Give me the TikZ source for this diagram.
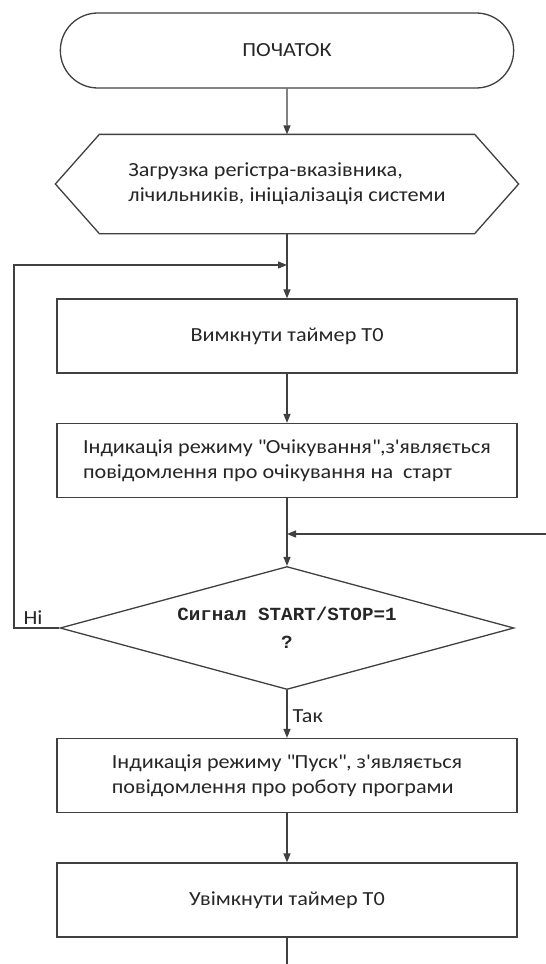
\documentclass[tikz,border=0pt]{standalone}
\usepackage{fontspec}
\setmainfont{Carlito}[FakeStretch=1.11]
\newfontfamily\monob{Liberation Mono}[BoldFont={* Bold},FakeStretch=1.04]
\usetikzlibrary{arrows.meta,shapes.misc,shapes.geometric,calc}
\begin{document}
\begin{tikzpicture}[x=1pt,y=-1pt,
  line width=1.3pt,
  every node/.style={font=\fontsize{20}{25}\selectfont, text=black!85},
  ln/.style={draw=black!75},
  arr/.style={ln,-{Triangle[length=9pt,width=7pt]}},
  termbox/.style={draw=black!75,rounded rectangle,minimum width=460pt,minimum height=75pt},
  procbox/.style={draw=black!75,rectangle,minimum width=460pt,minimum height=74pt,align=left},
  decbox/.style={draw=black!75,diamond,aspect=3.69,minimum width=454pt,minimum height=123pt,inner sep=0pt,align=center},
  lbl/.style={font=\fontsize{20}{22}\selectfont}
]
\useasboundingbox (0,0) rectangle (546,964);
\fill[white] (0,0) rectangle (546,964);

\node[termbox] (start) at (287,50.5) {ПОЧАТОК};
\node[rectangle,minimum width=374pt,minimum height=98pt,align=left] (init) at (287,184) {Загрузка регістра-вказівника,\\лічильників, ініціалізація системи};
\draw[ln] (init.north west) -- (init.north east) -- ($(init.east)+(44,0)$) -- (init.south east) -- (init.south west) -- ($(init.west)+(-44,0)$) -- cycle;

\node[procbox,align=center] (box1) at (287,336) {Вимкнути таймер T0};
\node[procbox] (box2) at (287,460.5) {Індикація режиму \textquotedbl Очікування\textquotedbl,з\textquotesingle являється\\повідомлення про очікування на\ \ старт};
\node[decbox,font=\monob\bfseries\fontsize{18.5}{28}\selectfont] (dec) at (287,628) {Сигнал START/STOP=1\\?};
\node[procbox] (box3) at (287,775.5) {Індикація режиму \textquotedbl Пуск\textquotedbl, з\textquotesingle являється\\повідомлення про роботу програми};
\node[procbox,align=center] (box4) at (287,900) {Увімкнути таймер T0};

\coordinate (loopL) at (14,265);
\coordinate (loopJ) at (287,265);
\coordinate (rin) at (548,534);
\coordinate (rJ) at (287,534);
\coordinate (endp) at (287,966);

\draw[arr] (start) -- (init);
\draw[arr] (init.south) -- (box1.north);
\draw[arr] (box1) -- (box2);
\draw[arr] (box2) -- (dec);
\draw[arr] (dec) -- (box3) node[pos=0.55,right,lbl,inner sep=5pt] {Так};
\draw[arr] (box3) -- (box4);
\draw[ln] (box4) -- (endp);
\draw[arr] (dec.west) -| (loopL) -- (loopJ);
\draw[arr] (rin) -- (rJ);
\node[lbl,anchor=center] (ni) at (33,618) {Ні};
\end{tikzpicture}
\end{document}
